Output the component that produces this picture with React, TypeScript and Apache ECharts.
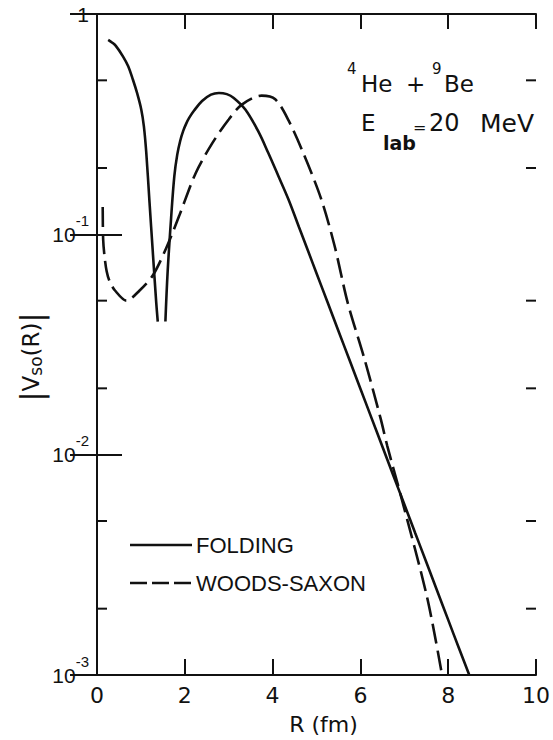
import React, { useEffect, useRef } from "react";
import * as echarts from "echarts";

// ---- data ----
const foldingR: (number | null)[] = [
  0.255, 0.34, 0.429, 0.594, 0.711, 0.819, 0.914, 1.009, 1.068, 1.122, 1.196, 1.271, 1.348, 1.384, null,
  1.558, 1.609, 1.686, 1.761, 1.828, 1.896, 1.964, 2.032, 2.099, 2.212, 2.393, 2.596, 2.777,
  2.957, 3.115, 3.379, 3.68, 3.9, 4.131, 4.36, 4.6, 4.8, 5.0, 5.25, 5.5, 5.75, 6.0, 6.25,
  6.5, 6.75, 7.0, 7.25, 7.5, 7.75, 8.0, 8.25, 8.48,
];
const foldingV: (number | null)[] = [
  0.763, 0.743, 0.717, 0.641, 0.579, 0.503, 0.437, 0.368, 0.309, 0.2354, 0.14, 0.0832, 0.0494, 0.0402, null,
  0.0402, 0.0676, 0.117, 0.1834, 0.23, 0.266, 0.2947, 0.318, 0.3375, 0.3645, 0.4027, 0.4305, 0.4383,
  0.4328, 0.416, 0.3684, 0.2917, 0.2344, 0.184, 0.1443, 0.108, 0.0849, 0.0666, 0.0493, 0.03643, 0.02694, 0.01993, 0.01473,
  0.01089, 0.00805, 0.005953, 0.0044, 0.003255, 0.002406, 0.001779, 0.001315, 0.001,
];
const woodsR: number[] = [
  0.13, 0.14, 0.17, 0.22, 0.29, 0.41, 0.67, 0.97, 1.27, 1.57, 1.87, 2.25, 2.63,
  3.0, 3.3, 3.75, 4.06, 4.36, 4.73, 5.11, 5.41, 5.71, 6.09, 6.46, 6.61, 6.95,
  7.52, 7.86,
];
const woodsV: number[] = [
  0.133, 0.095, 0.08, 0.068, 0.061, 0.0556, 0.05, 0.0556, 0.065, 0.086, 0.121,
  0.19, 0.26, 0.332, 0.388, 0.426, 0.41, 0.33, 0.226, 0.144, 0.089, 0.049,
  0.0273, 0.0146, 0.011, 0.0062, 0.00225, 0.001,
];
const xTicks = [0, 2, 4, 6, 8, 10];
const yMajor = [1, 0.1, 0.01, 0.001];
const yMinor = [0.5, 0.2, 0.05, 0.02, 0.005, 0.002];
const seriesNames = ["FOLDING", "WOODS-SAXON"];

const INK = "#111";
const FONT = "DejaVu Sans";
const LW = 2.6;
const WS_DASH = [20, 7];

export default function App() {
  const ref = useRef<HTMLDivElement>(null);
  useEffect(() => {
    if (!ref.current) return;
    const chart = echarts.init(ref.current, undefined, { renderer: "svg" });

    const foldingData = foldingR.map((r, i) =>
      r === null || foldingV[i] === null ? ["-", "-"] : [r, foldingV[i]]
    );
    const woodsData = woodsR.map((r, i) => [r, woodsV[i]]);

    const axisLine = { show: true, lineStyle: { color: INK, width: 2 } };
    const txt = (x: number, y: number, text: string, fontSize: number, extra: any = {}) => ({
      type: "text",
      x,
      y,
      style: { text, fontSize, fontFamily: FONT, fill: INK, verticalAlign: "middle", ...extra },
    });

    const option: any = {
      animation: false,
      backgroundColor: "#fff",
      grid: { left: 97, right: 13, top: 14, bottom: 62, containLabel: false },
      xAxis: [
        {
          type: "value",
          min: xTicks[0],
          max: xTicks[xTicks.length - 1],
          interval: 2,
          position: "bottom",
          axisLine,
          axisTick: { show: true, inside: true, length: 16, lineStyle: { color: INK, width: 2 } },
          axisLabel: { show: true, color: INK, fontFamily: FONT, fontSize: 22, margin: 9 },
          splitLine: { show: false },
          name: "R (fm)",
          nameLocation: "middle",
          nameGap: 38,
          nameTextStyle: { color: INK, fontFamily: FONT, fontSize: 22, padding: [0, 0, 0, 14] },
        },
        {
          type: "value",
          min: xTicks[0],
          max: xTicks[xTicks.length - 1],
          interval: 2,
          position: "top",
          axisLine,
          axisTick: { show: true, inside: true, length: 15, lineStyle: { color: INK, width: 2 } },
          axisLabel: { show: false },
          splitLine: { show: false },
        },
      ],
      yAxis: [
        {
          type: "log",
          logBase: 10,
          min: yMajor[yMajor.length - 1],
          max: yMajor[0],
          position: "left",
          axisLine,
          axisTick: { show: true, inside: true, length: 25, lineStyle: { color: INK, width: 2 } },
          axisLabel: {
            show: true,
            margin: 8,
            formatter: (v: number) => {
              const e = Math.round(Math.log10(v));
              if (e === 0) return "{n|1}";
              return "{n|10}{e|-" + Math.abs(e) + "}";
            },
            rich: {
              n: { fontSize: 21, fontFamily: "Liberation Sans", color: INK },
              e: { fontSize: 15, fontFamily: "Liberation Sans", color: INK, padding: [0, 0, 28, 0] },
            },
          },
          splitLine: { show: false },
        },
        {
          type: "log",
          logBase: 10,
          min: yMajor[yMajor.length - 1],
          max: yMajor[0],
          position: "right",
          axisLine,
          axisTick: { show: true, inside: true, length: 27, lineStyle: { color: INK, width: 2 } },
          axisLabel: { show: false },
          splitLine: { show: false },
        },
      ],
      series: [
        {
          name: seriesNames[0],
          type: "line",
          data: foldingData,
          showSymbol: false,
          symbol: "none",
          smooth: 0.35,
          connectNulls: false,
          lineStyle: { color: INK, width: LW, type: "solid" },
          itemStyle: { color: INK },
          clip: true,
        },
        {
          name: seriesNames[1],
          type: "line",
          data: woodsData,
          showSymbol: false,
          symbol: "none",
          smooth: 0.3,
          lineStyle: { color: INK, width: LW, type: WS_DASH },
          itemStyle: { color: INK },
          clip: true,
        },
        {
          type: "custom",
          coordinateSystem: "cartesian2d",
          silent: true,
          clip: false,
          data: yMinor.map((v) => [xTicks[0], v]),
          renderItem: (params: any, api: any) => {
            const v = api.value(1);
            const l = api.coord([xTicks[0], v]);
            const r = api.coord([xTicks[xTicks.length - 1], v]);
            const st = { stroke: INK, lineWidth: 2 };
            return {
              type: "group",
              children: [
                { type: "line", shape: { x1: l[0], y1: l[1], x2: l[0] + 10, y2: l[1] }, style: st },
                { type: "line", shape: { x1: r[0] - 10, y1: r[1], x2: r[0], y2: r[1] }, style: st },
              ],
            };
          },
        },
      ],
      graphic: [
        // y-axis title
        {
          type: "text",
          x: 31,
          y: 357,
          rotation: Math.PI / 2,
          style: {
            text: "{b||}{v|V}{s|so}{v|(R)}{b||}",
            align: "center",
            verticalAlign: "middle",
            rich: {
              b: { fontSize: 30, fontFamily: FONT, fill: INK, color: INK },
              v: { fontSize: 23, fontFamily: FONT, fill: INK, color: INK },
              s: { fontSize: 17, fontFamily: FONT, fill: INK, color: INK, padding: [10, 0, 0, 0] },
            },
          },
        },
        // legend
        { type: "line", shape: { x1: 130, y1: 545, x2: 192, y2: 545 }, style: { stroke: INK, lineWidth: LW } },
        { type: "line", shape: { x1: 130, y1: 583, x2: 192, y2: 583 }, style: { stroke: INK, lineWidth: LW, lineDash: [17, 5] } },
        txt(196, 545, seriesNames[0], 22, { fontFamily: "Liberation Sans" }),
        txt(196, 583, seriesNames[1], 22, { fontFamily: "Liberation Sans" }),
        // annotation
        txt(347, 69, "4", 15),
        txt(361, 84, "He", 23),
        txt(406, 84, "+", 23),
        txt(432, 69, "9", 15),
        txt(444, 84, "Be", 23),
        txt(361, 123, "E", 23),
        txt(383, 143, "lab", 19, { fontWeight: "bold" }),
        txt(413, 127, "=", 16),
        txt(429, 123, "20", 24),
        txt(534, 123, "MeV", 25, { align: "right" }),
      ],
    };

    chart.setOption(option);
    return () => chart.dispose();
  }, []);

  return (
    <div
      ref={ref}
      style={{ position: "fixed", left: 0, top: 0, width: 553, height: 740, background: "#fff" }}
    />
  );
}
